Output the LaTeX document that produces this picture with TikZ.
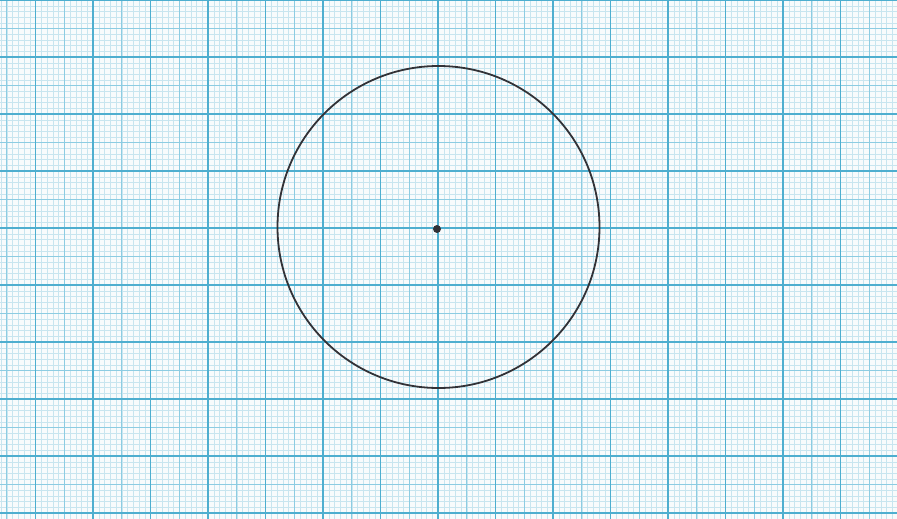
\documentclass[tikz,border=0pt]{standalone}
\definecolor{paper}{RGB}{248,251,252}
\definecolor{minorc}{RGB}{200,229,239}
\definecolor{medc}{RGB}{140,204,226}
\definecolor{majorc}{RGB}{78,174,207}
\definecolor{pencil}{RGB}{50,50,55}
\tikzset{
  minorline/.style={draw=minorc, line width=0.35pt},
  medline/.style={draw=medc, line width=0.7pt},
  majorline/.style={draw=majorc, line width=1.1pt},
  ring/.style={circle, draw=pencil, line width=1.8pt, minimum size=322pt, inner sep=0pt},
  centerdot/.style={circle, fill=pencil, minimum size=8pt, inner sep=0pt}
}
\begin{document}
\begin{tikzpicture}[x=1pt,y=-1pt]
\fill[paper] (0,0) rectangle (897,519);
\useasboundingbox (0,0) rectangle (897,519);
\begin{scope}
\clip (0,0) rectangle (897,519);
% minor lines
\foreach \i in {-77,...,80} \draw[minorline] ({438+\i*5.75},0) -- ({438+\i*5.75},519);
\foreach \j in {-41,...,52} \draw[minorline] (0,{228+\j*5.7}) -- (897,{228+\j*5.7});
% medium lines
\foreach \i in {-75,-70,...,80} \draw[medline] ({438+\i*5.75},0) -- ({438+\i*5.75},519);
\foreach \j in {-40,-35,...,50} \draw[medline] (0,{228+\j*5.7}) -- (897,{228+\j*5.7});
% major lines
\foreach \i in {-70,-60,...,80} \draw[majorline] ({438+\i*5.75},0) -- ({438+\i*5.75},519);
\foreach \j in {-40,-30,...,50} \draw[majorline] (0,{228+\j*5.7}) -- (897,{228+\j*5.7});
\end{scope}
\node[ring] (circ) at (438.5,227) {};
\node[centerdot] (ctr) at (437,229) {};
\end{tikzpicture}
\end{document}
